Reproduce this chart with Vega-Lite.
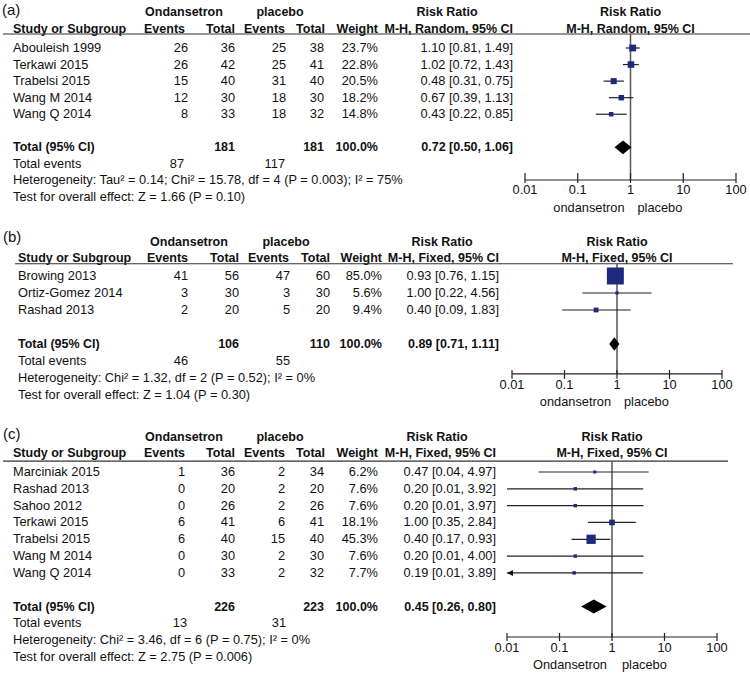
{
"$schema":"https://vega.github.io/schema/vega-lite/v6.json",
"padding":0,
"spacing":0,
"bounds":"flush",
"background":"white",
"config":{"view":{"stroke":null},"text":{"font":"Liberation Sans","fontSize":12.8,"color":"#111","baseline":"middle"},"rule":{"color":"#222","strokeWidth":1.2}},
"resolve":{"scale":{"size":"independent"}},
"datasets":{
"ticks":[{"v":0.01,"lab":"0.01"},{"v":0.1,"lab":"0.1"},{"v":1,"lab":"1"},{"v":10,"lab":"10"},{"v":100,"lab":"100"}],
"a":[
{"kind":"study","row":1,"label":"Abouleish 1999","e1":26,"n1":36,"e2":25,"n2":38,"weight":0.237,"rr":1.10,"lo":0.81,"hi":1.49,"ci":"1.10 [0.81, 1.49]"},
{"kind":"study","row":2,"label":"Terkawi 2015","e1":26,"n1":42,"e2":25,"n2":41,"weight":0.228,"rr":1.02,"lo":0.72,"hi":1.43,"ci":"1.02 [0.72, 1.43]"},
{"kind":"study","row":3,"label":"Trabelsi 2015","e1":15,"n1":40,"e2":31,"n2":40,"weight":0.205,"rr":0.48,"lo":0.31,"hi":0.75,"ci":"0.48 [0.31, 0.75]"},
{"kind":"study","row":4,"label":"Wang M 2014","e1":12,"n1":30,"e2":18,"n2":30,"weight":0.182,"rr":0.67,"lo":0.39,"hi":1.13,"ci":"0.67 [0.39, 1.13]"},
{"kind":"study","row":5,"label":"Wang Q 2014","e1":8,"n1":33,"e2":18,"n2":32,"weight":0.148,"rr":0.43,"lo":0.22,"hi":0.85,"ci":"0.43 [0.22, 0.85]"},
{"kind":"total","row":7,"label":"Total (95% CI)","n1":181,"n2":181,"weight":1.0,"rr":0.72,"lo":0.50,"hi":1.06,"ci":"0.72 [0.50, 1.06]"},
{"kind":"events","row":8,"label":"Total events","e1":87,"e2":117},
{"kind":"note","row":9,"label":"Heterogeneity: Tau² = 0.14; Chi² = 15.78, df = 4 (P = 0.003); I² = 75%"},
{"kind":"note","row":10,"label":"Test for overall effect: Z = 1.66 (P = 0.10)"}
],
"b":[
{"kind":"study","row":1,"label":"Browing 2013","e1":41,"n1":56,"e2":47,"n2":60,"weight":0.85,"rr":0.93,"lo":0.76,"hi":1.15,"ci":"0.93 [0.76, 1.15]"},
{"kind":"study","row":2,"label":"Ortiz-Gomez 2014","e1":3,"n1":30,"e2":3,"n2":30,"weight":0.056,"rr":1.00,"lo":0.22,"hi":4.56,"ci":"1.00 [0.22, 4.56]"},
{"kind":"study","row":3,"label":"Rashad 2013","e1":2,"n1":20,"e2":5,"n2":20,"weight":0.094,"rr":0.40,"lo":0.09,"hi":1.83,"ci":"0.40 [0.09, 1.83]"},
{"kind":"total","row":5,"label":"Total (95% CI)","n1":106,"n2":110,"weight":1.0,"rr":0.89,"lo":0.71,"hi":1.11,"ci":"0.89 [0.71, 1.11]"},
{"kind":"events","row":6,"label":"Total events","e1":46,"e2":55},
{"kind":"note","row":7,"label":"Heterogeneity: Chi² = 1.32, df = 2 (P = 0.52); I² = 0%"},
{"kind":"note","row":8,"label":"Test for overall effect: Z = 1.04 (P = 0.30)"}
],
"c":[
{"kind":"study","row":1,"label":"Marciniak 2015","e1":1,"n1":36,"e2":2,"n2":34,"weight":0.062,"rr":0.47,"lo":0.04,"hi":4.97,"ci":"0.47 [0.04, 4.97]"},
{"kind":"study","row":2,"label":"Rashad 2013","e1":0,"n1":20,"e2":2,"n2":20,"weight":0.076,"rr":0.20,"lo":0.01,"hi":3.92,"ci":"0.20 [0.01, 3.92]"},
{"kind":"study","row":3,"label":"Sahoo 2012","e1":0,"n1":26,"e2":2,"n2":26,"weight":0.076,"rr":0.20,"lo":0.01,"hi":3.97,"ci":"0.20 [0.01, 3.97]"},
{"kind":"study","row":4,"label":"Terkawi 2015","e1":6,"n1":41,"e2":6,"n2":41,"weight":0.181,"rr":1.00,"lo":0.35,"hi":2.84,"ci":"1.00 [0.35, 2.84]"},
{"kind":"study","row":5,"label":"Trabelsi 2015","e1":6,"n1":40,"e2":15,"n2":40,"weight":0.453,"rr":0.40,"lo":0.17,"hi":0.93,"ci":"0.40 [0.17, 0.93]"},
{"kind":"study","row":6,"label":"Wang M 2014","e1":0,"n1":30,"e2":2,"n2":30,"weight":0.076,"rr":0.20,"lo":0.01,"hi":4.00,"ci":"0.20 [0.01, 4.00]"},
{"kind":"study","row":7,"label":"Wang Q 2014","e1":0,"n1":33,"e2":2,"n2":32,"weight":0.077,"rr":0.19,"lo":0.01,"hi":3.89,"ci":"0.19 [0.01, 3.89]"},
{"kind":"total","row":9,"label":"Total (95% CI)","n1":226,"n2":223,"weight":1.0,"rr":0.45,"lo":0.26,"hi":0.80,"ci":"0.45 [0.26, 0.80]"},
{"kind":"events","row":10,"label":"Total events","e1":13,"e2":31},
{"kind":"note","row":11,"label":"Heterogeneity: Chi² = 3.46, df = 6 (P = 0.75); I² = 0%"},
{"kind":"note","row":12,"label":"Test for overall effect: Z = 2.75 (P = 0.006)"}
]
},
"vconcat":[
{"width":750,"height":220,"resolve":{"scale":{"x":"independent"}},"layer":[
 {"data":{"values":[{}]},"layer":[
  {"mark":{"type":"text","text":"(a)","align":"left","fontSize":15},"encoding":{"x":{"datum":2,"type":"quantitative","scale":{"domain":[0,750],"nice":false,"zero":false},"axis":null},"y":{"datum":-1.29,"type":"quantitative","scale":{"domain":[0,10],"range":[31.44,197.04],"nice":false,"zero":false},"axis":null}}},
  {"mark":{"type":"text","text":"Ondansetron","align":"center","fontWeight":"bold","fontSize":12.5},"encoding":{"x":{"datum":184,"type":"quantitative","scale":{"domain":[0,750],"nice":false,"zero":false},"axis":null},"y":{"datum":-1.17,"type":"quantitative","scale":{"domain":[0,10],"range":[31.44,197.04],"nice":false,"zero":false},"axis":null}}},
  {"mark":{"type":"text","text":"placebo","align":"center","fontWeight":"bold","fontSize":12.5},"encoding":{"x":{"datum":280,"type":"quantitative","scale":{"domain":[0,750],"nice":false,"zero":false},"axis":null},"y":{"datum":-1.17,"type":"quantitative","scale":{"domain":[0,10],"range":[31.44,197.04],"nice":false,"zero":false},"axis":null}}},
  {"mark":{"type":"text","text":"Risk Ratio","align":"center","fontWeight":"bold","fontSize":12.5},"encoding":{"x":{"datum":447,"type":"quantitative","scale":{"domain":[0,750],"nice":false,"zero":false},"axis":null},"y":{"datum":-1.17,"type":"quantitative","scale":{"domain":[0,10],"range":[31.44,197.04],"nice":false,"zero":false},"axis":null}}},
  {"mark":{"type":"text","text":"Study or Subgroup","align":"left","fontWeight":"bold","fontSize":12.5},"encoding":{"x":{"datum":13,"type":"quantitative","scale":{"domain":[0,750],"nice":false,"zero":false},"axis":null},"y":{"datum":-0.15,"type":"quantitative","scale":{"domain":[0,10],"range":[31.44,197.04],"nice":false,"zero":false},"axis":null}}},
  {"mark":{"type":"text","text":"Events","align":"right","fontWeight":"bold","fontSize":12.5},"encoding":{"x":{"datum":185,"type":"quantitative","scale":{"domain":[0,750],"nice":false,"zero":false},"axis":null},"y":{"datum":-0.15,"type":"quantitative","scale":{"domain":[0,10],"range":[31.44,197.04],"nice":false,"zero":false},"axis":null}}},
  {"mark":{"type":"text","text":"Total","align":"right","fontWeight":"bold","fontSize":12.5},"encoding":{"x":{"datum":235,"type":"quantitative","scale":{"domain":[0,750],"nice":false,"zero":false},"axis":null},"y":{"datum":-0.15,"type":"quantitative","scale":{"domain":[0,10],"range":[31.44,197.04],"nice":false,"zero":false},"axis":null}}},
  {"mark":{"type":"text","text":"Events","align":"right","fontWeight":"bold","fontSize":12.5},"encoding":{"x":{"datum":285,"type":"quantitative","scale":{"domain":[0,750],"nice":false,"zero":false},"axis":null},"y":{"datum":-0.15,"type":"quantitative","scale":{"domain":[0,10],"range":[31.44,197.04],"nice":false,"zero":false},"axis":null}}},
  {"mark":{"type":"text","text":"Total","align":"right","fontWeight":"bold","fontSize":12.5},"encoding":{"x":{"datum":325,"type":"quantitative","scale":{"domain":[0,750],"nice":false,"zero":false},"axis":null},"y":{"datum":-0.15,"type":"quantitative","scale":{"domain":[0,10],"range":[31.44,197.04],"nice":false,"zero":false},"axis":null}}},
  {"mark":{"type":"text","text":"Weight","align":"right","fontWeight":"bold","fontSize":12.5},"encoding":{"x":{"datum":378,"type":"quantitative","scale":{"domain":[0,750],"nice":false,"zero":false},"axis":null},"y":{"datum":-0.15,"type":"quantitative","scale":{"domain":[0,10],"range":[31.44,197.04],"nice":false,"zero":false},"axis":null}}},
  {"mark":{"type":"text","text":"M-H, Random, 95% CI","align":"right","fontWeight":"bold","fontSize":12.5},"encoding":{"x":{"datum":513,"type":"quantitative","scale":{"domain":[0,750],"nice":false,"zero":false},"axis":null},"y":{"datum":-0.15,"type":"quantitative","scale":{"domain":[0,10],"range":[31.44,197.04],"nice":false,"zero":false},"axis":null}}},
  {"mark":{"type":"rule","color":"#333","strokeWidth":1.2},"encoding":{"x":{"datum":3,"type":"quantitative","scale":{"domain":[0,750],"nice":false,"zero":false},"axis":null},"x2":{"datum":750},"y":{"datum":0.155,"type":"quantitative","scale":{"domain":[0,10],"range":[31.44,197.04],"nice":false,"zero":false},"axis":null}}}
 ]},
 {"data":{"name":"a"},"encoding":{"y":{"field":"row","type":"quantitative","scale":{"domain":[0,10],"range":[31.44,197.04],"nice":false,"zero":false},"axis":null}},"layer":[
  {"transform":[{"filter":"datum.kind != 'total'"}],"mark":{"type":"text","align":"left"},"encoding":{"x":{"datum":13,"type":"quantitative","scale":{"domain":[0,750],"nice":false,"zero":false},"axis":null},"text":{"field":"label","type":"nominal"}}},
  {"transform":[{"filter":"datum.kind == 'total'"}],"mark":{"type":"text","align":"left","fontWeight":"bold","fontSize":12.5},"encoding":{"x":{"datum":13,"type":"quantitative","scale":{"domain":[0,750],"nice":false,"zero":false},"axis":null},"text":{"field":"label","type":"nominal"}}},
  {"transform":[{"filter":"datum.kind == 'study'"}],"mark":{"type":"text","align":"right"},"encoding":{"x":{"datum":188,"type":"quantitative","scale":{"domain":[0,750],"nice":false,"zero":false},"axis":null},"text":{"field":"e1","type":"nominal"}}},
  {"transform":[{"filter":"datum.kind == 'study'"}],"mark":{"type":"text","align":"right"},"encoding":{"x":{"datum":235,"type":"quantitative","scale":{"domain":[0,750],"nice":false,"zero":false},"axis":null},"text":{"field":"n1","type":"nominal"}}},
  {"transform":[{"filter":"datum.kind == 'study'"}],"mark":{"type":"text","align":"right"},"encoding":{"x":{"datum":286,"type":"quantitative","scale":{"domain":[0,750],"nice":false,"zero":false},"axis":null},"text":{"field":"e2","type":"nominal"}}},
  {"transform":[{"filter":"datum.kind == 'study'"}],"mark":{"type":"text","align":"right"},"encoding":{"x":{"datum":324,"type":"quantitative","scale":{"domain":[0,750],"nice":false,"zero":false},"axis":null},"text":{"field":"n2","type":"nominal"}}},
  {"transform":[{"filter":"datum.kind == 'study'"}],"mark":{"type":"text","align":"right"},"encoding":{"x":{"datum":378,"type":"quantitative","scale":{"domain":[0,750],"nice":false,"zero":false},"axis":null},"text":{"field":"weight","type":"quantitative","format":".1%"}}},
  {"transform":[{"filter":"datum.kind == 'study'"}],"mark":{"type":"text","align":"right"},"encoding":{"x":{"datum":513,"type":"quantitative","scale":{"domain":[0,750],"nice":false,"zero":false},"axis":null},"text":{"field":"ci","type":"nominal"}}},
  {"transform":[{"filter":"datum.kind == 'total'"}],"mark":{"type":"text","align":"right","fontWeight":"bold","fontSize":12.5},"encoding":{"x":{"datum":235,"type":"quantitative","scale":{"domain":[0,750],"nice":false,"zero":false},"axis":null},"text":{"field":"n1","type":"nominal"}}},
  {"transform":[{"filter":"datum.kind == 'total'"}],"mark":{"type":"text","align":"right","fontWeight":"bold","fontSize":12.5},"encoding":{"x":{"datum":324,"type":"quantitative","scale":{"domain":[0,750],"nice":false,"zero":false},"axis":null},"text":{"field":"n2","type":"nominal"}}},
  {"transform":[{"filter":"datum.kind == 'total'"}],"mark":{"type":"text","align":"right","fontWeight":"bold","fontSize":12.5},"encoding":{"x":{"datum":378,"type":"quantitative","scale":{"domain":[0,750],"nice":false,"zero":false},"axis":null},"text":{"field":"weight","type":"quantitative","format":".1%"}}},
  {"transform":[{"filter":"datum.kind == 'total'"}],"mark":{"type":"text","align":"right","fontWeight":"bold","fontSize":12.5},"encoding":{"x":{"datum":513,"type":"quantitative","scale":{"domain":[0,750],"nice":false,"zero":false},"axis":null},"text":{"field":"ci","type":"nominal"}}},
  {"transform":[{"filter":"datum.kind == 'events'"}],"mark":{"type":"text","align":"right"},"encoding":{"x":{"datum":184,"type":"quantitative","scale":{"domain":[0,750],"nice":false,"zero":false},"axis":null},"text":{"field":"e1","type":"nominal"}}},
  {"transform":[{"filter":"datum.kind == 'events'"}],"mark":{"type":"text","align":"right"},"encoding":{"x":{"datum":285,"type":"quantitative","scale":{"domain":[0,750],"nice":false,"zero":false},"axis":null},"text":{"field":"e2","type":"nominal"}}}
 ]},
 {"layer":[
  {"data":{"values":[{}]},"layer":[
   {"mark":{"type":"text","text":"Risk Ratio","align":"center","fontWeight":"bold","fontSize":12.5},"encoding":{"x":{"datum":1,"type":"quantitative","scale":{"type":"log","domain":[0.01,100],"range":[525,736],"nice":false},"axis":null},"y":{"datum":-1.17,"type":"quantitative","scale":{"domain":[0,10],"range":[31.44,197.04],"nice":false,"zero":false},"axis":null}}},
   {"mark":{"type":"text","text":"M-H, Random, 95% CI","align":"center","fontWeight":"bold","fontSize":12.5},"encoding":{"x":{"datum":1,"type":"quantitative","scale":{"type":"log","domain":[0.01,100],"range":[525,736],"nice":false},"axis":null},"y":{"datum":-0.15,"type":"quantitative","scale":{"domain":[0,10],"range":[31.44,197.04],"nice":false,"zero":false},"axis":null}}},
   {"mark":{"type":"rule","color":"#555","strokeWidth":1.5},"encoding":{"x":{"datum":1,"type":"quantitative","scale":{"type":"log","domain":[0.01,100],"range":[525,736],"nice":false},"axis":null},"y":{"datum":0.155,"type":"quantitative","scale":{"domain":[0,10],"range":[31.44,197.04],"nice":false,"zero":false},"axis":null},"y2":{"datum":8.97}}},
   {"mark":{"type":"rule"},"encoding":{"x":{"datum":0.01,"type":"quantitative","scale":{"type":"log","domain":[0.01,100],"range":[525,736],"nice":false},"axis":null},"x2":{"datum":100},"y":{"datum":8.97,"type":"quantitative","scale":{"domain":[0,10],"range":[31.44,197.04],"nice":false,"zero":false},"axis":null}}},
   {"mark":{"type":"text","text":"ondansetron","align":"right","dx":-6},"encoding":{"x":{"datum":1,"type":"quantitative","scale":{"type":"log","domain":[0.01,100],"range":[525,736],"nice":false},"axis":null},"y":{"datum":10.66,"type":"quantitative","scale":{"domain":[0,10],"range":[31.44,197.04],"nice":false,"zero":false},"axis":null}}},
   {"mark":{"type":"text","text":"placebo","align":"left","dx":7},"encoding":{"x":{"datum":1,"type":"quantitative","scale":{"type":"log","domain":[0.01,100],"range":[525,736],"nice":false},"axis":null},"y":{"datum":10.66,"type":"quantitative","scale":{"domain":[0,10],"range":[31.44,197.04],"nice":false,"zero":false},"axis":null}}}
  ]},
  {"data":{"name":"ticks"},"layer":[
   {"mark":{"type":"rule"},"encoding":{"x":{"field":"v","type":"quantitative","scale":{"type":"log","domain":[0.01,100],"range":[525,736],"nice":false},"axis":null},"y":{"datum":8.55,"type":"quantitative","scale":{"domain":[0,10],"range":[31.44,197.04],"nice":false,"zero":false},"axis":null},"y2":{"datum":9.15}}},
   {"mark":{"type":"text","align":"center"},"encoding":{"x":{"field":"v","type":"quantitative","scale":{"type":"log","domain":[0.01,100],"range":[525,736],"nice":false},"axis":null},"y":{"datum":9.57,"type":"quantitative","scale":{"domain":[0,10],"range":[31.44,197.04],"nice":false,"zero":false},"axis":null},"text":{"field":"lab","type":"nominal"}}}
  ]},
  {"data":{"name":"a"},"encoding":{"y":{"field":"row","type":"quantitative","scale":{"domain":[0,10],"range":[31.44,197.04],"nice":false,"zero":false},"axis":null}},"layer":[
   {"transform":[{"filter":"datum.kind == 'study'"}],"mark":{"type":"rule","color":"#222","strokeWidth":1.2},"encoding":{"x":{"field":"lo","type":"quantitative","scale":{"type":"log","domain":[0.01,100],"range":[525,736],"nice":false},"axis":null},"x2":{"field":"hi"}}},
   {"transform":[{"filter":"datum.kind == 'study'"}],"mark":{"type":"point","shape":"square","filled":true,"color":"#1c2a80","opacity":1},"encoding":{"x":{"field":"rr","type":"quantitative","scale":{"type":"log","domain":[0.01,100],"range":[525,736],"nice":false},"axis":null},"size":{"field":"weight","type":"quantitative","scale":{"domain":[0.148,0.237],"range":[20,46],"zero":false},"legend":null}}},
   {"transform":[{"filter":"datum.kind == 'total'"}],"mark":{"type":"point","shape":"M-1,0L0,-0.8L1,0L0,0.8Z","size":289,"filled":true,"color":"#000","opacity":1},"encoding":{"x":{"field":"rr","type":"quantitative","scale":{"type":"log","domain":[0.01,100],"range":[525,736],"nice":false},"axis":null}}}
  ]}
 ]}
]},
{"width":750,"height":200,"resolve":{"scale":{"x":"independent"}},"layer":[
 {"data":{"values":[{}]},"layer":[
  {"mark":{"type":"text","text":"(b)","align":"left","fontSize":15},"encoding":{"x":{"datum":3,"type":"quantitative","scale":{"domain":[0,750],"nice":false,"zero":false},"axis":null},"y":{"datum":-1.29,"type":"quantitative","scale":{"domain":[0,10],"range":[39,209],"nice":false,"zero":false},"axis":null}}},
  {"mark":{"type":"text","text":"Ondansetron","align":"center","fontWeight":"bold","fontSize":12.5},"encoding":{"x":{"datum":189,"type":"quantitative","scale":{"domain":[0,750],"nice":false,"zero":false},"axis":null},"y":{"datum":-1.0,"type":"quantitative","scale":{"domain":[0,10],"range":[39,209],"nice":false,"zero":false},"axis":null}}},
  {"mark":{"type":"text","text":"placebo","align":"center","fontWeight":"bold","fontSize":12.5},"encoding":{"x":{"datum":286,"type":"quantitative","scale":{"domain":[0,750],"nice":false,"zero":false},"axis":null},"y":{"datum":-1.0,"type":"quantitative","scale":{"domain":[0,10],"range":[39,209],"nice":false,"zero":false},"axis":null}}},
  {"mark":{"type":"text","text":"Risk Ratio","align":"center","fontWeight":"bold","fontSize":12.5},"encoding":{"x":{"datum":442,"type":"quantitative","scale":{"domain":[0,750],"nice":false,"zero":false},"axis":null},"y":{"datum":-1.0,"type":"quantitative","scale":{"domain":[0,10],"range":[39,209],"nice":false,"zero":false},"axis":null}}},
  {"mark":{"type":"text","text":"Study or Subgroup","align":"left","fontWeight":"bold","fontSize":12.5},"encoding":{"x":{"datum":18,"type":"quantitative","scale":{"domain":[0,750],"nice":false,"zero":false},"axis":null},"y":{"datum":-0.05,"type":"quantitative","scale":{"domain":[0,10],"range":[39,209],"nice":false,"zero":false},"axis":null}}},
  {"mark":{"type":"text","text":"Events","align":"right","fontWeight":"bold","fontSize":12.5},"encoding":{"x":{"datum":188,"type":"quantitative","scale":{"domain":[0,750],"nice":false,"zero":false},"axis":null},"y":{"datum":-0.05,"type":"quantitative","scale":{"domain":[0,10],"range":[39,209],"nice":false,"zero":false},"axis":null}}},
  {"mark":{"type":"text","text":"Total","align":"right","fontWeight":"bold","fontSize":12.5},"encoding":{"x":{"datum":239,"type":"quantitative","scale":{"domain":[0,750],"nice":false,"zero":false},"axis":null},"y":{"datum":-0.05,"type":"quantitative","scale":{"domain":[0,10],"range":[39,209],"nice":false,"zero":false},"axis":null}}},
  {"mark":{"type":"text","text":"Events","align":"right","fontWeight":"bold","fontSize":12.5},"encoding":{"x":{"datum":289,"type":"quantitative","scale":{"domain":[0,750],"nice":false,"zero":false},"axis":null},"y":{"datum":-0.05,"type":"quantitative","scale":{"domain":[0,10],"range":[39,209],"nice":false,"zero":false},"axis":null}}},
  {"mark":{"type":"text","text":"Total","align":"right","fontWeight":"bold","fontSize":12.5},"encoding":{"x":{"datum":330,"type":"quantitative","scale":{"domain":[0,750],"nice":false,"zero":false},"axis":null},"y":{"datum":-0.05,"type":"quantitative","scale":{"domain":[0,10],"range":[39,209],"nice":false,"zero":false},"axis":null}}},
  {"mark":{"type":"text","text":"Weight","align":"right","fontWeight":"bold","fontSize":12.5},"encoding":{"x":{"datum":382,"type":"quantitative","scale":{"domain":[0,750],"nice":false,"zero":false},"axis":null},"y":{"datum":-0.05,"type":"quantitative","scale":{"domain":[0,10],"range":[39,209],"nice":false,"zero":false},"axis":null}}},
  {"mark":{"type":"text","text":"M-H, Fixed, 95% CI","align":"right","fontWeight":"bold","fontSize":12.5},"encoding":{"x":{"datum":499,"type":"quantitative","scale":{"domain":[0,750],"nice":false,"zero":false},"axis":null},"y":{"datum":-0.05,"type":"quantitative","scale":{"domain":[0,10],"range":[39,209],"nice":false,"zero":false},"axis":null}}},
  {"mark":{"type":"rule","color":"#333","strokeWidth":1.2},"encoding":{"x":{"datum":15,"type":"quantitative","scale":{"domain":[0,750],"nice":false,"zero":false},"axis":null},"x2":{"datum":733},"y":{"datum":0.28,"type":"quantitative","scale":{"domain":[0,10],"range":[39,209],"nice":false,"zero":false},"axis":null}}}
 ]},
 {"data":{"name":"b"},"encoding":{"y":{"field":"row","type":"quantitative","scale":{"domain":[0,10],"range":[39,209],"nice":false,"zero":false},"axis":null}},"layer":[
  {"transform":[{"filter":"datum.kind != 'total'"}],"mark":{"type":"text","align":"left"},"encoding":{"x":{"datum":18,"type":"quantitative","scale":{"domain":[0,750],"nice":false,"zero":false},"axis":null},"text":{"field":"label","type":"nominal"}}},
  {"transform":[{"filter":"datum.kind == 'total'"}],"mark":{"type":"text","align":"left","fontWeight":"bold","fontSize":12.5},"encoding":{"x":{"datum":18,"type":"quantitative","scale":{"domain":[0,750],"nice":false,"zero":false},"axis":null},"text":{"field":"label","type":"nominal"}}},
  {"transform":[{"filter":"datum.kind == 'study'"}],"mark":{"type":"text","align":"right"},"encoding":{"x":{"datum":188,"type":"quantitative","scale":{"domain":[0,750],"nice":false,"zero":false},"axis":null},"text":{"field":"e1","type":"nominal"}}},
  {"transform":[{"filter":"datum.kind == 'study'"}],"mark":{"type":"text","align":"right"},"encoding":{"x":{"datum":239,"type":"quantitative","scale":{"domain":[0,750],"nice":false,"zero":false},"axis":null},"text":{"field":"n1","type":"nominal"}}},
  {"transform":[{"filter":"datum.kind == 'study'"}],"mark":{"type":"text","align":"right"},"encoding":{"x":{"datum":290,"type":"quantitative","scale":{"domain":[0,750],"nice":false,"zero":false},"axis":null},"text":{"field":"e2","type":"nominal"}}},
  {"transform":[{"filter":"datum.kind == 'study'"}],"mark":{"type":"text","align":"right"},"encoding":{"x":{"datum":330,"type":"quantitative","scale":{"domain":[0,750],"nice":false,"zero":false},"axis":null},"text":{"field":"n2","type":"nominal"}}},
  {"transform":[{"filter":"datum.kind == 'study'"}],"mark":{"type":"text","align":"right"},"encoding":{"x":{"datum":382,"type":"quantitative","scale":{"domain":[0,750],"nice":false,"zero":false},"axis":null},"text":{"field":"weight","type":"quantitative","format":".1%"}}},
  {"transform":[{"filter":"datum.kind == 'study'"}],"mark":{"type":"text","align":"right"},"encoding":{"x":{"datum":499,"type":"quantitative","scale":{"domain":[0,750],"nice":false,"zero":false},"axis":null},"text":{"field":"ci","type":"nominal"}}},
  {"transform":[{"filter":"datum.kind == 'total'"}],"mark":{"type":"text","align":"right","fontWeight":"bold","fontSize":12.5},"encoding":{"x":{"datum":239,"type":"quantitative","scale":{"domain":[0,750],"nice":false,"zero":false},"axis":null},"text":{"field":"n1","type":"nominal"}}},
  {"transform":[{"filter":"datum.kind == 'total'"}],"mark":{"type":"text","align":"right","fontWeight":"bold","fontSize":12.5},"encoding":{"x":{"datum":330,"type":"quantitative","scale":{"domain":[0,750],"nice":false,"zero":false},"axis":null},"text":{"field":"n2","type":"nominal"}}},
  {"transform":[{"filter":"datum.kind == 'total'"}],"mark":{"type":"text","align":"right","fontWeight":"bold","fontSize":12.5},"encoding":{"x":{"datum":382,"type":"quantitative","scale":{"domain":[0,750],"nice":false,"zero":false},"axis":null},"text":{"field":"weight","type":"quantitative","format":".1%"}}},
  {"transform":[{"filter":"datum.kind == 'total'"}],"mark":{"type":"text","align":"right","fontWeight":"bold","fontSize":12.5},"encoding":{"x":{"datum":499,"type":"quantitative","scale":{"domain":[0,750],"nice":false,"zero":false},"axis":null},"text":{"field":"ci","type":"nominal"}}},
  {"transform":[{"filter":"datum.kind == 'events'"}],"mark":{"type":"text","align":"right"},"encoding":{"x":{"datum":188,"type":"quantitative","scale":{"domain":[0,750],"nice":false,"zero":false},"axis":null},"text":{"field":"e1","type":"nominal"}}},
  {"transform":[{"filter":"datum.kind == 'events'"}],"mark":{"type":"text","align":"right"},"encoding":{"x":{"datum":290,"type":"quantitative","scale":{"domain":[0,750],"nice":false,"zero":false},"axis":null},"text":{"field":"e2","type":"nominal"}}}
 ]},
 {"layer":[
  {"data":{"values":[{}]},"layer":[
   {"mark":{"type":"text","text":"Risk Ratio","align":"center","fontWeight":"bold","fontSize":12.5},"encoding":{"x":{"datum":1,"type":"quantitative","scale":{"type":"log","domain":[0.01,100],"range":[512,722],"nice":false},"axis":null},"y":{"datum":-1.0,"type":"quantitative","scale":{"domain":[0,10],"range":[39,209],"nice":false,"zero":false},"axis":null}}},
   {"mark":{"type":"text","text":"M-H, Fixed, 95% CI","align":"center","fontWeight":"bold","fontSize":12.5},"encoding":{"x":{"datum":1,"type":"quantitative","scale":{"type":"log","domain":[0.01,100],"range":[512,722],"nice":false},"axis":null},"y":{"datum":-0.05,"type":"quantitative","scale":{"domain":[0,10],"range":[39,209],"nice":false,"zero":false},"axis":null}}},
   {"mark":{"type":"rule","color":"#555","strokeWidth":1.5},"encoding":{"x":{"datum":1,"type":"quantitative","scale":{"type":"log","domain":[0.01,100],"range":[512,722],"nice":false},"axis":null},"y":{"datum":0.28,"type":"quantitative","scale":{"domain":[0,10],"range":[39,209],"nice":false,"zero":false},"axis":null},"y2":{"datum":6.76}}},
   {"mark":{"type":"rule"},"encoding":{"x":{"datum":0.01,"type":"quantitative","scale":{"type":"log","domain":[0.01,100],"range":[512,722],"nice":false},"axis":null},"x2":{"datum":100},"y":{"datum":6.76,"type":"quantitative","scale":{"domain":[0,10],"range":[39,209],"nice":false,"zero":false},"axis":null}}},
   {"mark":{"type":"text","text":"ondansetron","align":"right","dx":-6},"encoding":{"x":{"datum":1,"type":"quantitative","scale":{"type":"log","domain":[0.01,100],"range":[512,722],"nice":false},"axis":null},"y":{"datum":8.41,"type":"quantitative","scale":{"domain":[0,10],"range":[39,209],"nice":false,"zero":false},"axis":null}}},
   {"mark":{"type":"text","text":"placebo","align":"left","dx":7},"encoding":{"x":{"datum":1,"type":"quantitative","scale":{"type":"log","domain":[0.01,100],"range":[512,722],"nice":false},"axis":null},"y":{"datum":8.41,"type":"quantitative","scale":{"domain":[0,10],"range":[39,209],"nice":false,"zero":false},"axis":null}}}
  ]},
  {"data":{"name":"ticks"},"layer":[
   {"mark":{"type":"rule"},"encoding":{"x":{"field":"v","type":"quantitative","scale":{"type":"log","domain":[0.01,100],"range":[512,722],"nice":false},"axis":null},"y":{"datum":6.53,"type":"quantitative","scale":{"domain":[0,10],"range":[39,209],"nice":false,"zero":false},"axis":null},"y2":{"datum":7.05}}},
   {"mark":{"type":"text","align":"center"},"encoding":{"x":{"field":"v","type":"quantitative","scale":{"type":"log","domain":[0.01,100],"range":[512,722],"nice":false},"axis":null},"y":{"datum":7.42,"type":"quantitative","scale":{"domain":[0,10],"range":[39,209],"nice":false,"zero":false},"axis":null},"text":{"field":"lab","type":"nominal"}}}
  ]},
  {"data":{"name":"b"},"encoding":{"y":{"field":"row","type":"quantitative","scale":{"domain":[0,10],"range":[39,209],"nice":false,"zero":false},"axis":null}},"layer":[
   {"transform":[{"filter":"datum.kind == 'study'"}],"mark":{"type":"rule","color":"#222","strokeWidth":1.2},"encoding":{"x":{"field":"lo","type":"quantitative","scale":{"type":"log","domain":[0.01,100],"range":[512,722],"nice":false},"axis":null},"x2":{"field":"hi"}}},
   {"transform":[{"filter":"datum.kind == 'study'"}],"mark":{"type":"point","shape":"square","filled":true,"color":"#1c2a80","opacity":1},"encoding":{"x":{"field":"rr","type":"quantitative","scale":{"type":"log","domain":[0.01,100],"range":[512,722],"nice":false},"axis":null},"size":{"field":"weight","type":"quantitative","scale":{"domain":[0.056,0.85],"range":[10,289],"zero":false},"legend":null}}},
   {"transform":[{"filter":"datum.kind == 'total'"}],"mark":{"type":"point","shape":"M-1,0L0,-1.3L1,0L0,1.3Z","size":104,"filled":true,"color":"#000","opacity":1},"encoding":{"x":{"field":"rr","type":"quantitative","scale":{"type":"log","domain":[0.01,100],"range":[512,722],"nice":false},"axis":null}}}
  ]}
 ]}
]},
{"width":750,"height":255,"resolve":{"scale":{"x":"independent"}},"layer":[
 {"data":{"values":[{}]},"layer":[
  {"mark":{"type":"text","text":"(c)","align":"left","fontSize":15},"encoding":{"x":{"datum":3,"type":"quantitative","scale":{"domain":[0,750],"nice":false,"zero":false},"axis":null},"y":{"datum":-1.26,"type":"quantitative","scale":{"domain":[0,12],"range":[35.18,237.02],"nice":false,"zero":false},"axis":null}}},
  {"mark":{"type":"text","text":"Ondansetron","align":"center","fontWeight":"bold","fontSize":12.5},"encoding":{"x":{"datum":184,"type":"quantitative","scale":{"domain":[0,750],"nice":false,"zero":false},"axis":null},"y":{"datum":-1.08,"type":"quantitative","scale":{"domain":[0,12],"range":[35.18,237.02],"nice":false,"zero":false},"axis":null}}},
  {"mark":{"type":"text","text":"placebo","align":"center","fontWeight":"bold","fontSize":12.5},"encoding":{"x":{"datum":280,"type":"quantitative","scale":{"domain":[0,750],"nice":false,"zero":false},"axis":null},"y":{"datum":-1.08,"type":"quantitative","scale":{"domain":[0,12],"range":[35.18,237.02],"nice":false,"zero":false},"axis":null}}},
  {"mark":{"type":"text","text":"Risk Ratio","align":"center","fontWeight":"bold","fontSize":12.5},"encoding":{"x":{"datum":437,"type":"quantitative","scale":{"domain":[0,750],"nice":false,"zero":false},"axis":null},"y":{"datum":-1.08,"type":"quantitative","scale":{"domain":[0,12],"range":[35.18,237.02],"nice":false,"zero":false},"axis":null}}},
  {"mark":{"type":"text","text":"Study or Subgroup","align":"left","fontWeight":"bold","fontSize":12.5},"encoding":{"x":{"datum":13,"type":"quantitative","scale":{"domain":[0,750],"nice":false,"zero":false},"axis":null},"y":{"datum":-0.13,"type":"quantitative","scale":{"domain":[0,12],"range":[35.18,237.02],"nice":false,"zero":false},"axis":null}}},
  {"mark":{"type":"text","text":"Events","align":"right","fontWeight":"bold","fontSize":12.5},"encoding":{"x":{"datum":185,"type":"quantitative","scale":{"domain":[0,750],"nice":false,"zero":false},"axis":null},"y":{"datum":-0.13,"type":"quantitative","scale":{"domain":[0,12],"range":[35.18,237.02],"nice":false,"zero":false},"axis":null}}},
  {"mark":{"type":"text","text":"Total","align":"right","fontWeight":"bold","fontSize":12.5},"encoding":{"x":{"datum":235,"type":"quantitative","scale":{"domain":[0,750],"nice":false,"zero":false},"axis":null},"y":{"datum":-0.13,"type":"quantitative","scale":{"domain":[0,12],"range":[35.18,237.02],"nice":false,"zero":false},"axis":null}}},
  {"mark":{"type":"text","text":"Events","align":"right","fontWeight":"bold","fontSize":12.5},"encoding":{"x":{"datum":285,"type":"quantitative","scale":{"domain":[0,750],"nice":false,"zero":false},"axis":null},"y":{"datum":-0.13,"type":"quantitative","scale":{"domain":[0,12],"range":[35.18,237.02],"nice":false,"zero":false},"axis":null}}},
  {"mark":{"type":"text","text":"Total","align":"right","fontWeight":"bold","fontSize":12.5},"encoding":{"x":{"datum":325,"type":"quantitative","scale":{"domain":[0,750],"nice":false,"zero":false},"axis":null},"y":{"datum":-0.13,"type":"quantitative","scale":{"domain":[0,12],"range":[35.18,237.02],"nice":false,"zero":false},"axis":null}}},
  {"mark":{"type":"text","text":"Weight","align":"right","fontWeight":"bold","fontSize":12.5},"encoding":{"x":{"datum":378,"type":"quantitative","scale":{"domain":[0,750],"nice":false,"zero":false},"axis":null},"y":{"datum":-0.13,"type":"quantitative","scale":{"domain":[0,12],"range":[35.18,237.02],"nice":false,"zero":false},"axis":null}}},
  {"mark":{"type":"text","text":"M-H, Fixed, 95% CI","align":"right","fontWeight":"bold","fontSize":12.5},"encoding":{"x":{"datum":496,"type":"quantitative","scale":{"domain":[0,750],"nice":false,"zero":false},"axis":null},"y":{"datum":-0.13,"type":"quantitative","scale":{"domain":[0,12],"range":[35.18,237.02],"nice":false,"zero":false},"axis":null}}},
  {"mark":{"type":"rule","color":"#333","strokeWidth":1.2},"encoding":{"x":{"datum":3,"type":"quantitative","scale":{"domain":[0,750],"nice":false,"zero":false},"axis":null},"x2":{"datum":728},"y":{"datum":0.35,"type":"quantitative","scale":{"domain":[0,12],"range":[35.18,237.02],"nice":false,"zero":false},"axis":null}}}
 ]},
 {"data":{"name":"c"},"encoding":{"y":{"field":"row","type":"quantitative","scale":{"domain":[0,12],"range":[35.18,237.02],"nice":false,"zero":false},"axis":null}},"layer":[
  {"transform":[{"filter":"datum.kind != 'total'"}],"mark":{"type":"text","align":"left"},"encoding":{"x":{"datum":13,"type":"quantitative","scale":{"domain":[0,750],"nice":false,"zero":false},"axis":null},"text":{"field":"label","type":"nominal"}}},
  {"transform":[{"filter":"datum.kind == 'total'"}],"mark":{"type":"text","align":"left","fontWeight":"bold","fontSize":12.5},"encoding":{"x":{"datum":13,"type":"quantitative","scale":{"domain":[0,750],"nice":false,"zero":false},"axis":null},"text":{"field":"label","type":"nominal"}}},
  {"transform":[{"filter":"datum.kind == 'study'"}],"mark":{"type":"text","align":"right"},"encoding":{"x":{"datum":185,"type":"quantitative","scale":{"domain":[0,750],"nice":false,"zero":false},"axis":null},"text":{"field":"e1","type":"nominal"}}},
  {"transform":[{"filter":"datum.kind == 'study'"}],"mark":{"type":"text","align":"right"},"encoding":{"x":{"datum":235,"type":"quantitative","scale":{"domain":[0,750],"nice":false,"zero":false},"axis":null},"text":{"field":"n1","type":"nominal"}}},
  {"transform":[{"filter":"datum.kind == 'study'"}],"mark":{"type":"text","align":"right"},"encoding":{"x":{"datum":285,"type":"quantitative","scale":{"domain":[0,750],"nice":false,"zero":false},"axis":null},"text":{"field":"e2","type":"nominal"}}},
  {"transform":[{"filter":"datum.kind == 'study'"}],"mark":{"type":"text","align":"right"},"encoding":{"x":{"datum":324,"type":"quantitative","scale":{"domain":[0,750],"nice":false,"zero":false},"axis":null},"text":{"field":"n2","type":"nominal"}}},
  {"transform":[{"filter":"datum.kind == 'study'"}],"mark":{"type":"text","align":"right"},"encoding":{"x":{"datum":378,"type":"quantitative","scale":{"domain":[0,750],"nice":false,"zero":false},"axis":null},"text":{"field":"weight","type":"quantitative","format":".1%"}}},
  {"transform":[{"filter":"datum.kind == 'study'"}],"mark":{"type":"text","align":"right"},"encoding":{"x":{"datum":496,"type":"quantitative","scale":{"domain":[0,750],"nice":false,"zero":false},"axis":null},"text":{"field":"ci","type":"nominal"}}},
  {"transform":[{"filter":"datum.kind == 'total'"}],"mark":{"type":"text","align":"right","fontWeight":"bold","fontSize":12.5},"encoding":{"x":{"datum":235,"type":"quantitative","scale":{"domain":[0,750],"nice":false,"zero":false},"axis":null},"text":{"field":"n1","type":"nominal"}}},
  {"transform":[{"filter":"datum.kind == 'total'"}],"mark":{"type":"text","align":"right","fontWeight":"bold","fontSize":12.5},"encoding":{"x":{"datum":324,"type":"quantitative","scale":{"domain":[0,750],"nice":false,"zero":false},"axis":null},"text":{"field":"n2","type":"nominal"}}},
  {"transform":[{"filter":"datum.kind == 'total'"}],"mark":{"type":"text","align":"right","fontWeight":"bold","fontSize":12.5},"encoding":{"x":{"datum":378,"type":"quantitative","scale":{"domain":[0,750],"nice":false,"zero":false},"axis":null},"text":{"field":"weight","type":"quantitative","format":".1%"}}},
  {"transform":[{"filter":"datum.kind == 'total'"}],"mark":{"type":"text","align":"right","fontWeight":"bold","fontSize":12.5},"encoding":{"x":{"datum":496,"type":"quantitative","scale":{"domain":[0,750],"nice":false,"zero":false},"axis":null},"text":{"field":"ci","type":"nominal"}}},
  {"transform":[{"filter":"datum.kind == 'events'"}],"mark":{"type":"text","align":"right"},"encoding":{"x":{"datum":187,"type":"quantitative","scale":{"domain":[0,750],"nice":false,"zero":false},"axis":null},"text":{"field":"e1","type":"nominal"}}},
  {"transform":[{"filter":"datum.kind == 'events'"}],"mark":{"type":"text","align":"right"},"encoding":{"x":{"datum":286,"type":"quantitative","scale":{"domain":[0,750],"nice":false,"zero":false},"axis":null},"text":{"field":"e2","type":"nominal"}}}
 ]},
 {"layer":[
  {"data":{"values":[{}]},"layer":[
   {"mark":{"type":"text","text":"Risk Ratio","align":"center","fontWeight":"bold","fontSize":12.5},"encoding":{"x":{"datum":1,"type":"quantitative","scale":{"type":"log","domain":[0.01,100],"range":[507,717],"nice":false},"axis":null},"y":{"datum":-1.08,"type":"quantitative","scale":{"domain":[0,12],"range":[35.18,237.02],"nice":false,"zero":false},"axis":null}}},
   {"mark":{"type":"text","text":"M-H, Fixed, 95% CI","align":"center","fontWeight":"bold","fontSize":12.5},"encoding":{"x":{"datum":1,"type":"quantitative","scale":{"type":"log","domain":[0.01,100],"range":[507,717],"nice":false},"axis":null},"y":{"datum":-0.13,"type":"quantitative","scale":{"domain":[0,12],"range":[35.18,237.02],"nice":false,"zero":false},"axis":null}}},
   {"mark":{"type":"rule","color":"#555","strokeWidth":1.5},"encoding":{"x":{"datum":1,"type":"quantitative","scale":{"type":"log","domain":[0.01,100],"range":[507,717],"nice":false},"axis":null},"y":{"datum":0.35,"type":"quantitative","scale":{"domain":[0,12],"range":[35.18,237.02],"nice":false,"zero":false},"axis":null},"y2":{"datum":10.81}}},
   {"mark":{"type":"rule"},"encoding":{"x":{"datum":0.01,"type":"quantitative","scale":{"type":"log","domain":[0.01,100],"range":[507,717],"nice":false},"axis":null},"x2":{"datum":100},"y":{"datum":10.81,"type":"quantitative","scale":{"domain":[0,12],"range":[35.18,237.02],"nice":false,"zero":false},"axis":null}}},
   {"mark":{"type":"text","text":"Ondansetron","align":"right","dx":-5},"encoding":{"x":{"datum":1,"type":"quantitative","scale":{"type":"log","domain":[0.01,100],"range":[507,717],"nice":false},"axis":null},"y":{"datum":12.47,"type":"quantitative","scale":{"domain":[0,12],"range":[35.18,237.02],"nice":false,"zero":false},"axis":null}}},
   {"mark":{"type":"text","text":"placebo","align":"left","dx":10},"encoding":{"x":{"datum":1,"type":"quantitative","scale":{"type":"log","domain":[0.01,100],"range":[507,717],"nice":false},"axis":null},"y":{"datum":12.47,"type":"quantitative","scale":{"domain":[0,12],"range":[35.18,237.02],"nice":false,"zero":false},"axis":null}}}
  ]},
  {"data":{"name":"ticks"},"layer":[
   {"mark":{"type":"rule"},"encoding":{"x":{"field":"v","type":"quantitative","scale":{"type":"log","domain":[0.01,100],"range":[507,717],"nice":false},"axis":null},"y":{"datum":10.57,"type":"quantitative","scale":{"domain":[0,12],"range":[35.18,237.02],"nice":false,"zero":false},"axis":null},"y2":{"datum":11.05}}},
   {"mark":{"type":"text","align":"center"},"encoding":{"x":{"field":"v","type":"quantitative","scale":{"type":"log","domain":[0.01,100],"range":[507,717],"nice":false},"axis":null},"y":{"datum":11.46,"type":"quantitative","scale":{"domain":[0,12],"range":[35.18,237.02],"nice":false,"zero":false},"axis":null},"text":{"field":"lab","type":"nominal"}}}
  ]},
  {"data":{"name":"c"},"encoding":{"y":{"field":"row","type":"quantitative","scale":{"domain":[0,12],"range":[35.18,237.02],"nice":false,"zero":false},"axis":null}},"layer":[
   {"transform":[{"filter":"datum.kind == 'study'"}],"mark":{"type":"rule","color":"#222","strokeWidth":1.2},"encoding":{"x":{"field":"lo","type":"quantitative","scale":{"type":"log","domain":[0.01,100],"range":[507,717],"nice":false},"axis":null},"x2":{"field":"hi"}}},
   {"transform":[{"filter":"datum.label == 'Wang Q 2014'"}],"mark":{"type":"point","shape":"M0,0L2,-1L2,1Z","size":36,"filled":true,"color":"#111","opacity":1},"encoding":{"x":{"field":"lo","type":"quantitative","scale":{"type":"log","domain":[0.01,100],"range":[507,717],"nice":false},"axis":null}}},
   {"transform":[{"filter":"datum.kind == 'study'"}],"mark":{"type":"point","shape":"square","filled":true,"color":"#1c2a80","opacity":1},"encoding":{"x":{"field":"rr","type":"quantitative","scale":{"type":"log","domain":[0.01,100],"range":[507,717],"nice":false},"axis":null},"size":{"field":"weight","type":"quantitative","scale":{"domain":[0.062,0.453],"range":[9,86],"zero":false},"legend":null}}},
   {"transform":[{"filter":"datum.kind == 'total'"}],"mark":{"type":"point","shape":"M-1,0L0,-0.55L1,0L0,0.55Z","size":655,"filled":true,"color":"#000","opacity":1},"encoding":{"x":{"field":"rr","type":"quantitative","scale":{"type":"log","domain":[0.01,100],"range":[507,717],"nice":false},"axis":null}}}
  ]}
 ]}
]}
]
}
